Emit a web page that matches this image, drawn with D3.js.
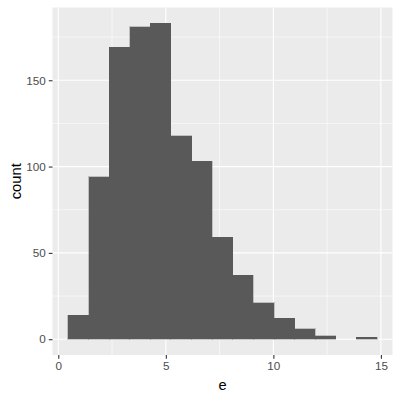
<!DOCTYPE html>
<html><head><meta charset="utf-8">
<script src="https://cdn.jsdelivr.net/npm/d3@7"></script>
<style>body{margin:0;background:#fff}svg{display:block}</style>
</head><body>
<script>
// histogram bins (left edge of first bin, bin width) and counts
const binStart = 0.45;
const binWidth = 0.958;
const counts = [14, 94, 169, 181, 183, 118, 103, 59, 37, 21, 12, 6, 2, 0, 1];
const xTicks = [0, 5, 10, 15];
const yTicks = [0, 50, 100, 150];
const xMinor = [2.5, 7.5, 12.5];
const yMinor = [25, 75, 125, 175];
const xLabel = "e";
const yLabel = "count";

const bins = counts.map((c, i) => ({x0: binStart + i * binWidth, x1: binStart + (i + 1) * binWidth, count: c}));

const W = 400, H = 400;
const panel = {left: 52.5, right: 392.5, top: 7.5, bottom: 355};
const xmin = bins[0].x0, xmax = bins[bins.length - 1].x1;
const xr = xmax - xmin;
const ymax = d3.max(counts);
const x = d3.scaleLinear().domain([xmin - 0.05 * xr, xmax + 0.05 * xr]).range([panel.left, panel.right]);
const y = d3.scaleLinear().domain([-0.05 * ymax, ymax * 1.05]).range([panel.bottom, panel.top]);

const svg = d3.select("body").append("svg").attr("width", W).attr("height", H);
svg.append("rect").attr("x", panel.left).attr("y", panel.top)
  .attr("width", panel.right - panel.left).attr("height", panel.bottom - panel.top).attr("fill", "#EBEBEB");

const grid = svg.append("g");
grid.selectAll(".xm").data(xMinor).join("line")
  .attr("x1", d => x(d)).attr("x2", d => x(d)).attr("y1", panel.top).attr("y2", panel.bottom)
  .attr("stroke", "#fff").attr("stroke-width", 0.55);
grid.selectAll(".ym").data(yMinor).join("line")
  .attr("y1", d => y(d)).attr("y2", d => y(d)).attr("x1", panel.left).attr("x2", panel.right)
  .attr("stroke", "#fff").attr("stroke-width", 0.55);
grid.selectAll(".xM").data(xTicks).join("line")
  .attr("x1", d => x(d)).attr("x2", d => x(d)).attr("y1", panel.top).attr("y2", panel.bottom)
  .attr("stroke", "#fff").attr("stroke-width", 1.1);
grid.selectAll(".yM").data(yTicks).join("line")
  .attr("y1", d => y(d)).attr("y2", d => y(d)).attr("x1", panel.left).attr("x2", panel.right)
  .attr("stroke", "#fff").attr("stroke-width", 1.1);

svg.append("g").attr("shape-rendering", "crispEdges").selectAll("rect").data(bins.filter(b => b.count > 0)).join("rect")
  .attr("x", d => x(d.x0)).attr("width", d => x(d.x1) - x(d.x0))
  .attr("y", d => y(d.count)).attr("height", d => y(0) - y(d.count))
  .attr("fill", "#595959").attr("stroke", "#595959").attr("stroke-width", 0.3);

// axes
const xAxis = svg.append("g").attr("transform", `translate(0,${panel.bottom})`)
  .call(d3.axisBottom(x).tickValues(xTicks).tickSize(3.7).tickPadding(3));
const yAxis = svg.append("g").attr("transform", `translate(${panel.left},0)`)
  .call(d3.axisLeft(y).tickValues(yTicks).tickSize(3.7).tickPadding(3));
[xAxis, yAxis].forEach(a => {
  a.select(".domain").remove();
  a.selectAll(".tick line").attr("stroke", "#333").attr("stroke-width", 1.1);
  a.selectAll(".tick text").attr("fill", "#4D4D4D").style("font-family", "Liberation Sans, Arial, sans-serif").style("font-size", "11.7px");
});

svg.append("text").attr("x", (panel.left + panel.right) / 2).attr("y", 390)
  .attr("text-anchor", "middle").style("font-family", "Liberation Sans, Arial, sans-serif")
  .style("font-size", "14.7px").attr("fill", "#000").text(xLabel);
svg.append("text").attr("transform", `translate(20.5,${(panel.top + panel.bottom) / 2}) rotate(-90)`)
  .attr("text-anchor", "middle").style("font-family", "Liberation Sans, Arial, sans-serif")
  .style("font-size", "14.7px").attr("fill", "#000").text(yLabel);
</script>
</body></html>
